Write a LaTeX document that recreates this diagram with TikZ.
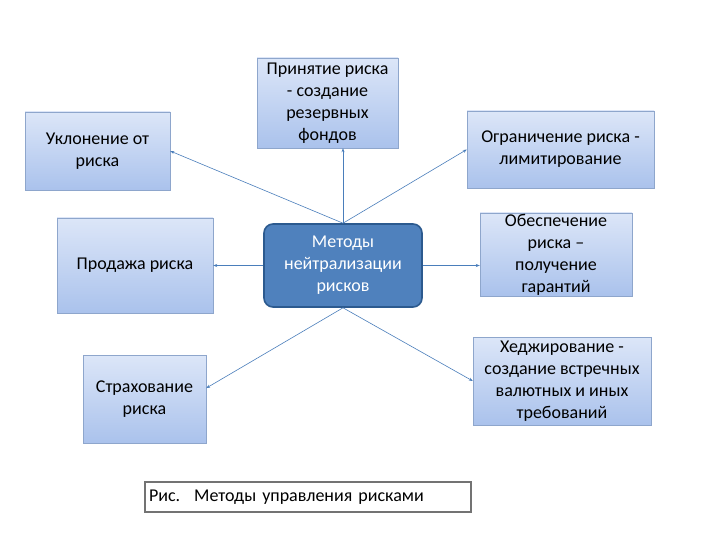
\documentclass[tikz,border=0pt]{standalone}
\usepackage{fontspec}
\setmainfont{Carlito}
\usetikzlibrary{arrows.meta}
\definecolor{boxtop}{HTML}{DCE6F8}
\definecolor{boxbot}{HTML}{AAC2EC}
\definecolor{boxline}{HTML}{8EA6CC}
\definecolor{arrline}{HTML}{4A7EBB}
\definecolor{midfill}{HTML}{4F81BD}
\definecolor{midline}{HTML}{2C5A8F}
\tikzset{
	methodbox/.style={draw=boxline, top color=boxtop, bottom color=boxbot, align=center, inner sep=1pt},
	centerbox/.style={draw=midline, line width=1.6pt, fill=midfill, rounded corners=9pt, align=center, text=white},
	link/.style={draw=arrline, line width=0.6pt, -{Stealth[length=4pt,width=3pt]}}
}
\begin{document}
\begin{tikzpicture}[x=1pt,y=-1pt,font=\fontsize{18}{22}\selectfont]
	\useasboundingbox (0,0) rectangle (720,540);
	\fill[white] (0,0) rectangle (720,540);
	% methods around the centre
	\node[methodbox, minimum width=145pt, minimum height=78pt] (ukl) at (97.5,151) {Уклонение от\\риска};
	\node[methodbox, minimum width=141pt, minimum height=90pt] (prin) at (327.5,103) {Принятие риска\\- создание\\резервных\\фондов};
	\node[methodbox, minimum width=187pt, minimum height=77pt] (ogr) at (560.5,149.5) {Ограничение риска -\\лимитирование};
	\node[methodbox, minimum width=156pt, minimum height=95pt] (prod) at (135,265.5) {Продажа риска};
	\node[methodbox, minimum width=152pt, minimum height=83pt] (obes) at (556,254.5) {Обеспечение\\риска –\\получение\\гарантий};
	\node[methodbox, minimum width=123pt, minimum height=88pt] (strah) at (144.5,399) {Страхование\\риска};
	\node[methodbox, minimum width=178pt, minimum height=88pt] (hedzh) at (562,381) {Хеджирование -\\создание встречных\\валютных и иных\\требований};
	% centre
	\node[centerbox, minimum width=158pt, minimum height=83pt] (metod) at (343,265.5) {Методы\\нейтрализации\\рисков};
	% caption
	\node[draw=black!55, line width=1.4pt, fill=white, minimum width=326pt, minimum height=30pt, text width=318pt, align=left, inner sep=4pt] (cap) at (308,497) {Рис.\hspace{14pt}Методы управления рисками};
	% connectors
	\draw[link] (metod.north) -- (ukl.east);
	\draw[link] (metod.north) -- (metod.north |- prin.south);
	\draw[link] (metod.north) -- (ogr.west);
	\draw[link] (metod.west) -- (prod.east);
	\draw[link] (metod.east) -- (metod.east -| obes.west);
	\draw[link] (metod.south) -- (strah.10);
	\draw[link] (metod.south) -- (hedzh.west);
\end{tikzpicture}
\end{document}
